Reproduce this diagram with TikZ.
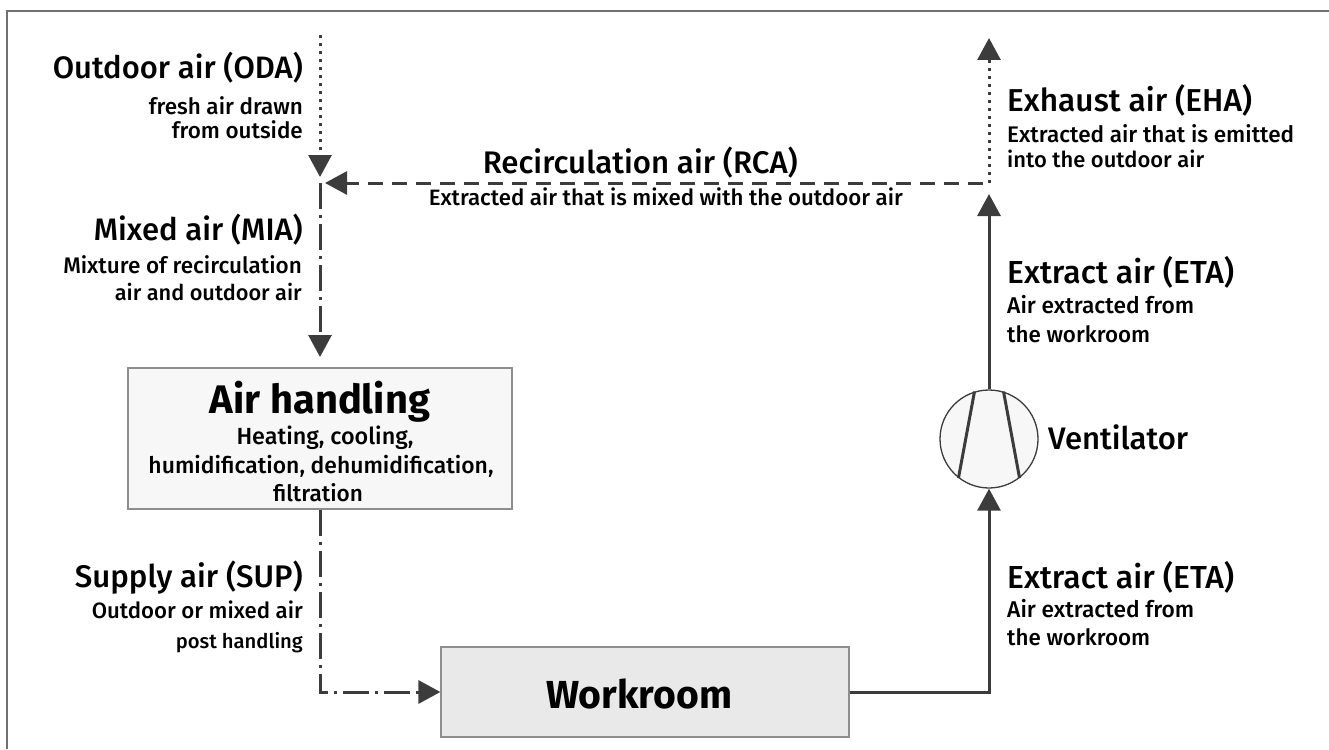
\documentclass[tikz,border=0pt]{standalone}
\usepackage{graphicx}
\usepackage{fontspec}
\setmainfont{Fira Sans}
\newfontfamily\medfont{Fira Sans}[UprightFont={* Medium}, BoldFont={* Bold}]
\usetikzlibrary{arrows.meta}
\newcommand\fitw[2]{\resizebox{#1pt}{!}{#2}}
\definecolor{ln}{HTML}{3C3C3C}
\definecolor{frm}{HTML}{707070}
\definecolor{boxA}{HTML}{F7F7F7}
\definecolor{boxB}{HTML}{E9E9E9}
\definecolor{bord}{HTML}{8E8E8E}
\begin{document}
\begin{tikzpicture}[x=1pt,y=-1pt,
  flow/.style={draw=ln, line width=3pt, -{Triangle[length=22pt,width=23pt]}},
  dotline/.style={dash pattern=on 3pt off 5pt},
  dashline/.style={dash pattern=on 15pt off 9pt},
  dashdot/.style={dash pattern=on 26pt off 6pt on 3pt off 6pt},
  ttl/.style={font=\medfont\fontsize{31.5}{34}\selectfont, inner sep=0pt},
  sub/.style={font=\medfont\fontsize{22.5}{26}\selectfont, inner sep=0pt},
  big/.style={font=\fontsize{40}{44}\selectfont\bfseries, inner sep=0pt},
  lbox/.style={draw=bord, line width=1.2pt, inner sep=0pt},
]
\useasboundingbox (0,0) rectangle (1329,749);
% frame
\draw[frm, line width=1.5pt] (7,749) -- (7,11) -- (1329,11);

% boxes
\node[lbox, fill=boxA, minimum width=384pt, minimum height=141pt] (ah) at (320,438.5) {};
\node[lbox, fill=boxB, minimum width=408pt, minimum height=90pt] (wr) at (645,692) {};
\node[circle, draw=ln, line width=1.3pt, fill=boxA, minimum size=98pt, inner sep=0pt] (vent) at (989,439) {};
\draw[ln, line width=3pt] (vent.107) -- (vent.232);
\draw[ln, line width=3pt] (vent.73) -- (vent.308);

% junctions and free ends
\coordinate (odatop) at (320,35);
\coordinate (j1) at (320,183);
\coordinate (odatip) at (320,177);
\coordinate (j2) at (989,183);
\coordinate (rcastart) at (983,183);
\coordinate (rcatip) at (325,183);
\coordinate (ehatip) at (989,38);
\coordinate (etatip) at (989,194);
\coordinate (miatip) at (320,357);

% connectors
\draw[flow, dotline] (odatop) -- (odatip);
\draw[flow, dashline] (rcastart) -- (rcatip);
\draw[flow, dashdot] (j1) -- (miatip);
\draw[flow, dashdot] (ah.south) |- (wr.west);
\draw[flow] (wr.east) -| (vent.south);
\draw[flow] (vent.north) -- (etatip);
\draw[flow, dotline] (j2) -- (ehatip);

% box texts
\node[big, anchor=base] (ahT) at (320,413) {\fitw{220}{Air handling}};
\node[sub, anchor=base] (ahS1) at (325,444) {\fitw{177}{Heating, cooling,}};
\node[sub, anchor=base] (ahS2) at (321,473) {\fitw{345}{humidification, dehumidification,}};
\node[sub, anchor=base] (ahS3) at (318,501) {\fitw{90}{filtration}};
\node[big, anchor=base] (wrT) at (639,708) {\fitw{186}{Workroom}};

% left column
\node[ttl, anchor=base east] (odaT) at (303,79) {\fitw{250}{Outdoor air (ODA)}};
\node[sub, anchor=base east] (odaS1) at (303,115) {\fitw{154}{fresh air drawn}};
\node[sub, anchor=base east] (odaS2) at (303,138) {\fitw{131}{from outside}};

\node[ttl, anchor=base east] (miaT) at (303,240) {\fitw{209}{Mixed air (MIA)}};
\node[sub, anchor=base east] (miaS1) at (302,273) {Mixture of recirculation};
\node[sub, anchor=base east] (miaS2) at (302,300) {\fitw{187}{air and outdoor air}};

\node[ttl, anchor=base east] (supT) at (303,587) {\fitw{228}{Supply air (SUP)}};
\node[sub, anchor=base east] (supS1) at (303,618) {\fitw{211}{Outdoor or mixed air}};
\node[sub, anchor=base east] (supS2) at (303,648) {\fitw{127}{post handling}};

% recirculation
\node[ttl, anchor=base east] (rcaT) at (798,173) {\fitw{315}{Recirculation air (RCA)}};
\node[sub, anchor=base east] (rcaS) at (903,205) {\fitw{474}{Extracted air that is mixed with the outdoor air}};

% right column
\node[ttl, anchor=base west] (ehaT) at (1007,112) {\fitw{245}{Exhaust air (EHA)}};
\node[sub, anchor=base west] (ehaS1) at (1007,142) {\fitw{287}{Extracted air that is emitted}};
\node[sub, anchor=base west] (ehaS2) at (1007,167) {\fitw{197}{into the outdoor air}};

\node[ttl, anchor=base west] (etaT) at (1007,283) {\fitw{227}{Extract air (ETA)}};
\node[sub, anchor=base west] (etaS1) at (1007,313) {\fitw{187}{Air extracted from}};
\node[sub, anchor=base west] (etaS2) at (1007,342) {\fitw{143}{the workroom}};

\node[ttl, anchor=base west] (ventT) at (1048,449) {\fitw{140}{Ventilator}};

\node[ttl, anchor=base west] (eta2T) at (1007,588) {\fitw{227}{Extract air (ETA)}};
\node[sub, anchor=base west] (eta2S1) at (1007,617) {\fitw{187}{Air extracted from}};
\node[sub, anchor=base west] (eta2S2) at (1007,645) {\fitw{143}{the workroom}};
\end{tikzpicture}
\end{document}
